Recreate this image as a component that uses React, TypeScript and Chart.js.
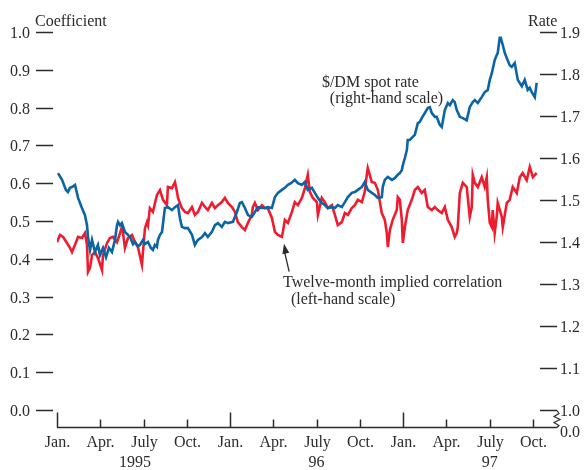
import { useEffect, useRef } from 'react';
import { Chart, registerables } from 'chart.js';

Chart.register(...registerables);

// x values are months since January 1995
const monthTickValues = [0, 3, 6, 9, 12, 15, 18, 21, 24, 27, 30, 33];
const monthTickLabels = ['Jan.', 'Apr.', 'July', 'Oct.', 'Jan.', 'Apr.', 'July', 'Oct.', 'Jan.', 'Apr.', 'July', 'Oct.'];
const yearLabels = ['1995', '96', '97'];
const yearLabelMonths = [5.4, 18, 30];
const leftTicks = [0, 0.1, 0.2, 0.3, 0.4, 0.5, 0.6, 0.7, 0.8, 0.9, 1.0];
const rightTicks = [1.0, 1.1, 1.2, 1.3, 1.4, 1.5, 1.6, 1.7, 1.8, 1.9];

const spotMonths = [
  0.07, 0.35, 0.62, 0.76, 0.9, 1.04, 1.25, 1.46, 1.73, 1.94, 2.08, 2.15, 2.29, 2.43, 2.63, 2.84, 2.98, 3.19, 3.4, 3.6,
  3.81, 4.02, 4.16, 4.23, 4.37, 4.5, 4.71, 4.92, 5.06, 5.27, 5.41, 5.61, 5.75, 5.96, 6.1, 6.31, 6.51, 6.65, 6.79, 6.93,
  7.0, 7.14, 7.28, 7.48, 7.69, 7.97, 8.18, 8.39, 8.52, 8.66, 8.87, 9.08, 9.36, 9.56, 9.77, 10.05, 10.26, 10.46, 10.74, 10.95,
  11.16, 11.43, 11.64, 11.85, 12.2, 12.47, 12.68, 12.82, 13.03, 13.24, 13.51, 13.72, 13.93, 14.21, 14.41, 14.62, 14.9, 15.11, 15.32, 15.59,
  15.8, 16.01, 16.22, 16.49, 16.7, 16.98, 17.19, 17.39, 17.67, 17.88, 18.09, 18.36, 18.57, 18.78, 19.06, 19.27, 19.47, 19.75, 19.96, 20.17,
  20.44, 20.65, 20.86, 21.14, 21.34, 21.55, 21.83, 22.04, 22.25, 22.52, 22.59, 22.73, 22.94, 23.22, 23.42, 23.63, 23.77, 23.91, 23.98, 24.12,
  24.26, 24.32, 24.46, 24.6, 24.81, 25.02, 25.16, 25.29, 25.5, 25.71, 25.85, 25.99, 26.2, 26.33, 26.54, 26.68, 26.89, 27.1, 27.24, 27.44,
  27.58, 27.72, 27.93, 28.14, 28.41, 28.62, 28.83, 28.97, 29.18, 29.45, 29.66, 29.87, 30.01, 30.15, 30.35, 30.49, 30.56, 30.7, 30.77, 30.91,
  31.05, 31.25, 31.39, 31.53, 31.74, 31.95, 32.23, 32.43, 32.64, 32.78, 32.92, 33.13, 33.26,
];
const spotRate = [
  1.564, 1.548, 1.524, 1.519, 1.529, 1.531, 1.536, 1.505, 1.481, 1.464, 1.44, 1.412, 1.381, 1.405, 1.376, 1.393, 1.369, 1.386, 1.364, 1.386,
  1.376, 1.405, 1.44, 1.448, 1.44, 1.445, 1.424, 1.417, 1.412, 1.395, 1.4, 1.39, 1.393, 1.405, 1.395, 1.4, 1.386, 1.381, 1.393, 1.388,
  1.405, 1.417, 1.424, 1.481, 1.483, 1.476, 1.483, 1.488, 1.457, 1.436, 1.433, 1.433, 1.417, 1.393, 1.405, 1.412, 1.421, 1.412, 1.424, 1.44,
  1.445, 1.436, 1.448, 1.445, 1.448, 1.471, 1.493, 1.495, 1.481, 1.464, 1.46, 1.471, 1.483, 1.481, 1.481, 1.483, 1.481, 1.507, 1.517, 1.524,
  1.529, 1.536, 1.54, 1.548, 1.54, 1.536, 1.543, 1.524, 1.529, 1.517, 1.505, 1.493, 1.488, 1.481, 1.483, 1.481, 1.488, 1.483, 1.495, 1.507,
  1.517, 1.519, 1.524, 1.531, 1.543, 1.524, 1.517, 1.512, 1.505, 1.507, 1.531, 1.548, 1.555, 1.548, 1.552, 1.56, 1.564, 1.571, 1.583, 1.6,
  1.619, 1.643, 1.643, 1.648, 1.655, 1.683, 1.686, 1.695, 1.707, 1.719, 1.721, 1.707, 1.698, 1.698, 1.679, 1.674, 1.714, 1.731, 1.726, 1.738,
  1.733, 1.714, 1.698, 1.695, 1.69, 1.721, 1.733, 1.738, 1.731, 1.745, 1.757, 1.762, 1.786, 1.802, 1.833, 1.845, 1.85, 1.886, 1.886, 1.869,
  1.85, 1.833, 1.821, 1.817, 1.826, 1.786, 1.771, 1.786, 1.762, 1.767, 1.757, 1.745, 1.779,
];

const corrMonths = [
  0.0, 0.21, 0.42, 0.69, 0.9, 1.04, 1.25, 1.46, 1.73, 1.94, 2.08, 2.15, 2.29, 2.43, 2.63, 2.84, 3.12, 3.19, 3.47, 3.67,
  3.88, 4.16, 4.37, 4.5, 4.57, 4.71, 4.92, 5.2, 5.41, 5.61, 5.89, 5.96, 6.1, 6.24, 6.31, 6.44, 6.65, 6.93, 7.14, 7.35,
  7.62, 7.69, 7.97, 8.18, 8.32, 8.39, 8.66, 8.87, 9.08, 9.36, 9.56, 9.77, 10.05, 10.26, 10.46, 10.74, 10.95, 11.16, 11.43, 11.64,
  11.85, 12.13, 12.34, 12.54, 12.82, 13.03, 13.24, 13.51, 13.58, 13.72, 13.93, 14.21, 14.41, 14.62, 14.9, 15.11, 15.32, 15.59, 15.66, 15.8,
  16.01, 16.29, 16.49, 16.7, 16.98, 17.19, 17.39, 17.53, 17.74, 18.02, 18.09, 18.36, 18.57, 18.78, 19.06, 19.27, 19.47, 19.75, 19.96, 20.17,
  20.44, 20.65, 20.86, 21.14, 21.34, 21.48, 21.55, 21.83, 22.04, 22.25, 22.52, 22.73, 22.87, 22.94, 23.08, 23.28, 23.56, 23.63, 23.77, 23.91,
  23.98, 24.12, 24.32, 24.6, 24.81, 25.02, 25.29, 25.5, 25.71, 25.99, 26.2, 26.4, 26.68, 26.89, 27.1, 27.37, 27.58, 27.72, 27.79, 27.93,
  28.14, 28.41, 28.62, 28.76, 28.83, 28.97, 29.18, 29.45, 29.66, 29.8, 29.87, 30.01, 30.15, 30.21, 30.35, 30.49, 30.56, 30.84, 30.91, 31.19,
  31.39, 31.6, 31.88, 32.09, 32.29, 32.57, 32.78, 33.0, 33.26,
];
const corrValues = [
  0.444, 0.463, 0.458, 0.442, 0.429, 0.418, 0.437, 0.458, 0.455, 0.468, 0.437, 0.365, 0.376, 0.41, 0.418, 0.402, 0.37, 0.41, 0.442, 0.455,
  0.458, 0.444, 0.468, 0.484, 0.471, 0.429, 0.455, 0.463, 0.444, 0.431, 0.384, 0.418, 0.481, 0.497, 0.489, 0.534, 0.524, 0.569, 0.582, 0.556,
  0.542, 0.59, 0.587, 0.603, 0.577, 0.561, 0.534, 0.524, 0.521, 0.537, 0.516, 0.524, 0.548, 0.537, 0.529, 0.548, 0.534, 0.542, 0.55, 0.561,
  0.548, 0.537, 0.524, 0.497, 0.484, 0.476, 0.495, 0.516, 0.537, 0.548, 0.529, 0.542, 0.534, 0.534, 0.508, 0.471, 0.463, 0.458, 0.471, 0.503,
  0.495, 0.524, 0.55, 0.542, 0.561, 0.587, 0.622, 0.577, 0.561, 0.55, 0.516, 0.561, 0.55, 0.534, 0.542, 0.516, 0.489, 0.497, 0.521, 0.516,
  0.534, 0.542, 0.556, 0.55, 0.577, 0.622, 0.64, 0.603, 0.601, 0.582, 0.521, 0.503, 0.468, 0.431, 0.476, 0.503, 0.529, 0.563, 0.556, 0.503,
  0.442, 0.484, 0.529, 0.556, 0.582, 0.59, 0.574, 0.582, 0.537, 0.529, 0.537, 0.529, 0.521, 0.537, 0.503, 0.484, 0.458, 0.468, 0.484, 0.574,
  0.601, 0.59, 0.511, 0.537, 0.622, 0.601, 0.59, 0.616, 0.59, 0.616, 0.556, 0.495, 0.484, 0.529, 0.468, 0.511, 0.548, 0.511, 0.484, 0.548,
  0.556, 0.59, 0.574, 0.616, 0.627, 0.608, 0.643, 0.616, 0.627,
];

const BLUE = '#0b65a5';
const RED = '#ee1c2f';
const INK = '#2b2b2b';
const FONT = '16px "Liberation Serif", "Times New Roman", serif';

const decorPlugin = {
  id: 'decor',
  afterDraw(chart: any) {
    const ctx = chart.ctx;
    const area = chart.chartArea;
    const xs = chart.scales.x;
    const yl = chart.scales.yL;
    const yr = chart.scales.yR;
    ctx.save();
    ctx.strokeStyle = INK;
    ctx.fillStyle = INK;
    ctx.lineWidth = 1.5;
    ctx.font = FONT;

    // left axis
    ctx.textAlign = 'right';
    ctx.textBaseline = 'middle';
    leftTicks.forEach((v) => {
      const y = Math.round(yl.getPixelForValue(v)) + 0.5;
      ctx.beginPath();
      ctx.moveTo(area.left - 21, y);
      ctx.lineTo(area.left - 4, y);
      ctx.stroke();
      ctx.fillText(v.toFixed(1), area.left - 27, y + 1);
    });
    ctx.textAlign = 'left';
    ctx.textBaseline = 'alphabetic';
    ctx.fillText('Coefficient', area.left - 22, area.top - 6);

    // right axis
    ctx.textBaseline = 'middle';
    rightTicks.forEach((v) => {
      const y = Math.round(yr.getPixelForValue(v)) + 0.5;
      ctx.beginPath();
      ctx.moveTo(area.right - 17, y);
      ctx.lineTo(area.right, y);
      ctx.stroke();
      ctx.fillText(v.toFixed(1), area.right + 3, y + 1);
    });
    ctx.textBaseline = 'alphabetic';
    ctx.fillText('Rate', area.right - 29, area.top - 6);

    // x axis
    const axisY = area.bottom + 17.5;
    ctx.beginPath();
    ctx.moveTo(area.left, axisY);
    ctx.lineTo(area.right, axisY);
    ctx.stroke();
    ctx.textAlign = 'center';
    ctx.textBaseline = 'middle';
    monthTickValues.forEach((m, i) => {
      const x = Math.round(xs.getPixelForValue(m)) + 0.5;
      const isJan = monthTickLabels[i] === 'Jan.';
      ctx.beginPath();
      ctx.moveTo(x, axisY);
      ctx.lineTo(x, axisY - (isJan ? 15 : 8));
      ctx.stroke();
      ctx.fillText(monthTickLabels[i], x, axisY + 15);
    });
    yearLabels.forEach((t, i) => {
      ctx.fillText(t, xs.getPixelForValue(yearLabelMonths[i]), axisY + 35);
    });

    // axis break on the right
    ctx.beginPath();
    const bx = area.right;
    const by = yr.getPixelForValue(1.0) + 0.5;
    ctx.moveTo(bx, by);
    ctx.lineTo(bx + 2, by + 3);
    ctx.lineTo(bx - 3, by + 6);
    ctx.lineTo(bx + 3, by + 9);
    ctx.lineTo(bx - 3, by + 12);
    ctx.lineTo(bx + 2, by + 15);
    ctx.lineTo(bx, axisY);
    ctx.lineWidth = 1.2;
    ctx.stroke();
    ctx.textAlign = 'left';
    ctx.fillText('0.0', area.right + 3, axisY + 5);

    // annotations
    ctx.textBaseline = 'middle';
    const ax = (m: number) => xs.getPixelForValue(m);
    ctx.fillText('$/DM spot rate', ax(18.37), yr.getPixelForValue(1.78));
    ctx.fillText('(right-hand scale)', ax(18.92), yr.getPixelForValue(1.74));
    ctx.fillText('Twelve-month implied correlation', ax(15.67), yl.getPixelForValue(0.336));
    ctx.fillText('(left-hand scale)', ax(16.22), yl.getPixelForValue(0.291));

    // arrow
    const tipX = ax(15.74);
    const tipY = yl.getPixelForValue(0.44);
    const tailX = ax(16.1);
    const tailY = yl.getPixelForValue(0.366);
    ctx.lineWidth = 1.3;
    ctx.beginPath();
    ctx.moveTo(tailX, tailY);
    ctx.lineTo(tipX, tipY + 6);
    ctx.stroke();
    const ang = Math.atan2(tipY - tailY, tipX - tailX);
    ctx.beginPath();
    ctx.moveTo(tipX, tipY);
    ctx.lineTo(tipX - 10 * Math.cos(ang) + 3.5 * Math.sin(ang), tipY - 10 * Math.sin(ang) - 3.5 * Math.cos(ang));
    ctx.lineTo(tipX - 10 * Math.cos(ang) - 3.5 * Math.sin(ang), tipY - 10 * Math.sin(ang) + 3.5 * Math.cos(ang));
    ctx.closePath();
    ctx.fill();

    ctx.restore();
  },
};

export default function App() {
  const canvasRef = useRef<HTMLCanvasElement | null>(null);

  useEffect(() => {
    document.body.style.margin = '0';
    const canvas = canvasRef.current;
    if (!canvas) return;
    const chart = new Chart(canvas, {
      type: 'line',
      data: {
        datasets: [
          {
            label: '$/DM spot rate',
            data: spotMonths.map((m, i) => ({ x: m, y: spotRate[i] })),
            borderColor: BLUE,
            borderWidth: 2.6,
            pointRadius: 0,
            tension: 0,
            yAxisID: 'yR',
          },
          {
            label: 'Twelve-month implied correlation',
            data: corrMonths.map((m, i) => ({ x: m, y: corrValues[i] })),
            borderColor: RED,
            borderWidth: 2.6,
            pointRadius: 0,
            tension: 0,
            yAxisID: 'yL',
          },
        ],
      },
      options: {
        animation: false,
        responsive: false,
        devicePixelRatio: 1,
        layout: { padding: { left: 57, right: 27, top: 32, bottom: 60 } },
        plugins: { legend: { display: false }, tooltip: { enabled: false } },
        scales: {
          x: { type: 'linear', min: 0, max: 34.67, display: false },
          yL: { type: 'linear', position: 'left', min: 0, max: 1, display: false },
          yR: { type: 'linear', position: 'right', min: 1.0, max: 1.9, display: false },
        },
      },
      plugins: [decorPlugin],
    });
    return () => chart.destroy();
  }, []);

  return (
    <div style={{ position: 'absolute', left: 0, top: 0, width: 584, height: 470, background: '#fff' }}>
      <canvas ref={canvasRef} width={584} height={470} style={{ display: 'block' }} />
    </div>
  );
}
